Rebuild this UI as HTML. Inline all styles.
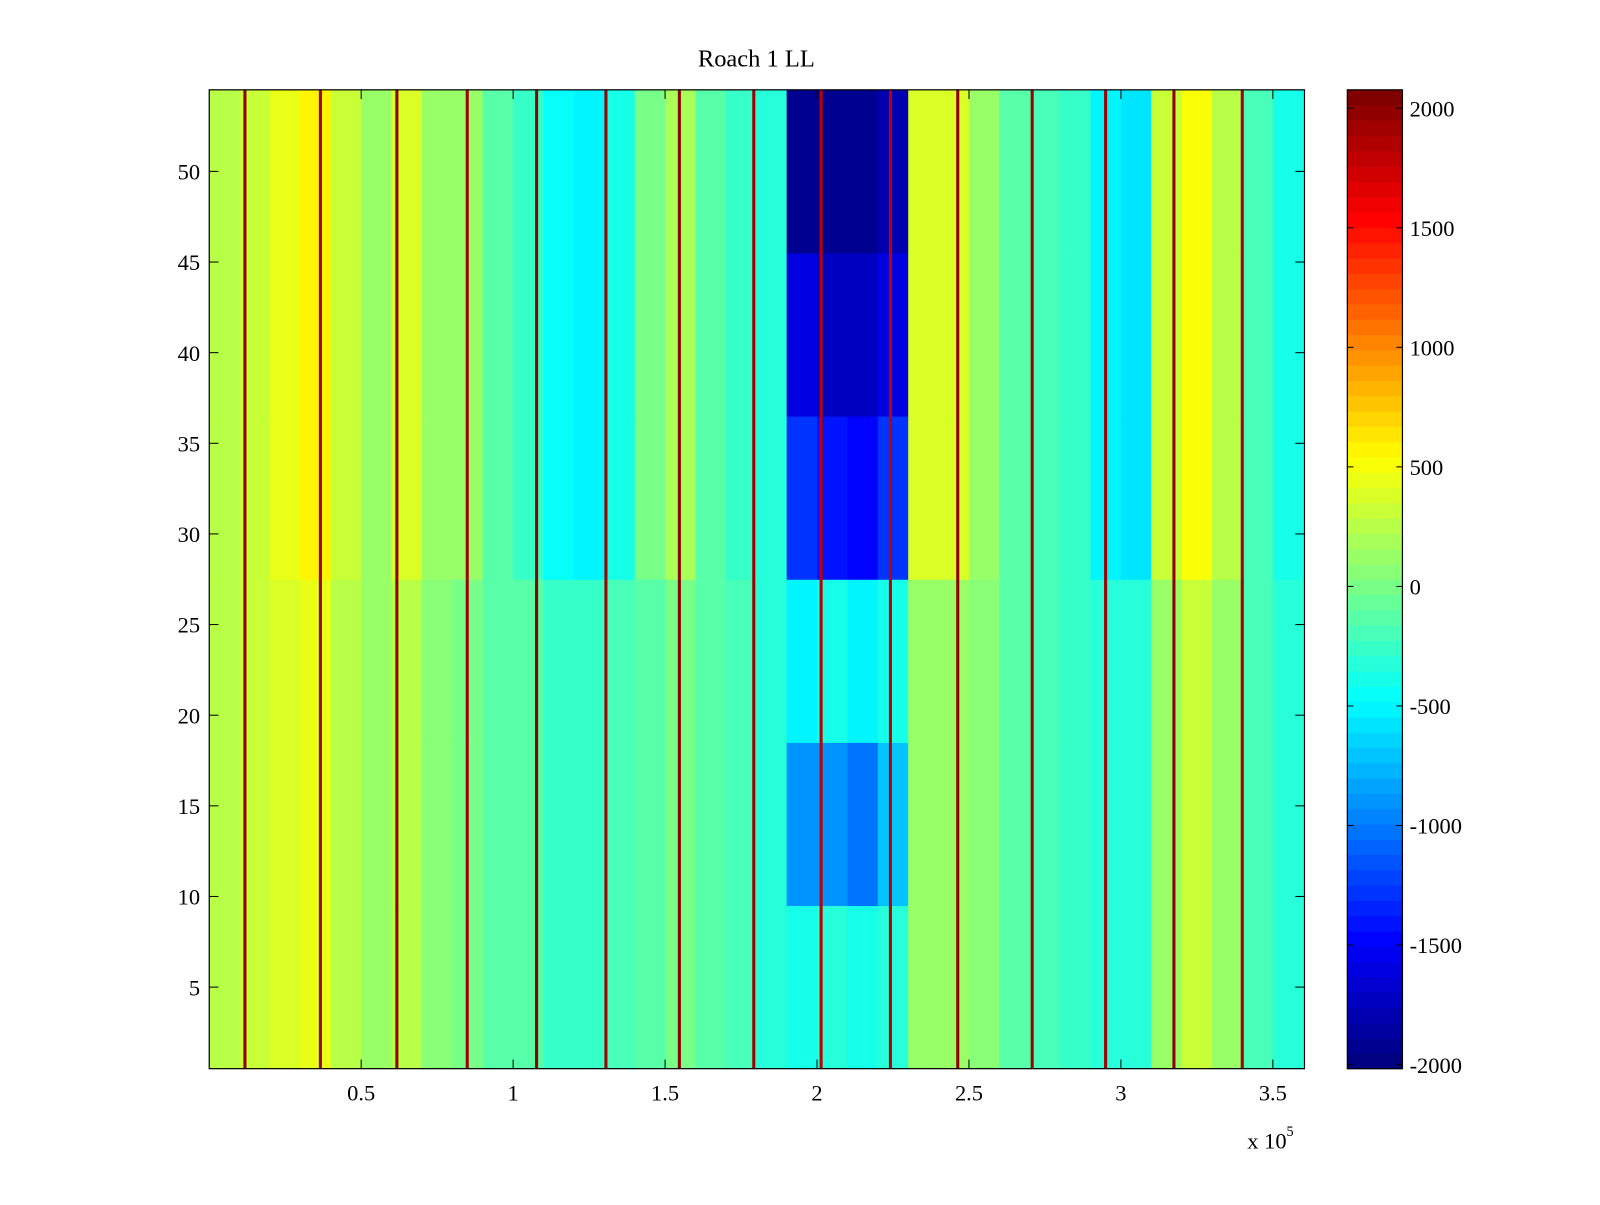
<!DOCTYPE html>
<html><head><meta charset="utf-8"><style>
body{margin:0;background:#fff;}
text{font-family:"Liberation Serif",serif;}
</style></head><body>
<svg id="chart" width="1600" height="1200" xmlns="http://www.w3.org/2000/svg">
<rect width="1600" height="1200" fill="#fff"/>
<g transform="scale(1.0207)">
<text x="741" y="65" font-size="24" text-anchor="middle">Roach 1 LL</text>
<g id="cells"></g>
<g id="stripes"></g>
<rect x="205" y="88" width="1073" height="959" fill="none" stroke="#000" stroke-width="1.2"/>
<g id="xaxis"></g>
<g id="yaxis"></g>
<text x="1222" y="1125" font-size="22">x 10<tspan font-size="14" dy="-12">5</tspan></text>
<g id="cbar"></g>
</g>
</svg>
<script>
// x-band width 10000, 36 bands; row groups (9 rows each) from bottom
const xBandStarts=[0,1,2,3,4,5,6,7,8,9,10,11,12,13,14,15,16,17,18,19,20,21,22,23,24,25,26,27,28,29,30,31,32,33,34,35];
const rowGroupStarts=[1,10,19,28,37,46];
const groupF=[250,300,350,450,250,150,250,50,0,-100,-150,-250,-250,-200,-100,0,-150,-200,-300,-400,-350,-400,-300,100,100,50,-100,-200,-250,-300,-300,100,300,150,-200,-300];
const groupE=[250,300,350,450,250,150,250,50,0,-100,-150,-250,-250,-200,-100,0,-150,-200,-300,-900,-900,-1000,-700,100,100,50,-100,-200,-250,-300,-300,100,300,150,-200,-300];
const groupD=[250,300,350,450,250,150,250,50,0,-100,-150,-250,-250,-200,-100,0,-150,-200,-300,-500,-400,-500,-400,100,100,50,-100,-200,-250,-300,-300,100,300,150,-200,-300];
const groupC=[250,300,450,600,300,150,350,100,150,-100,-250,-450,-500,-400,0,200,-100,-250,-300,-1300,-1400,-1500,-1300,400,400,100,-100,-200,-250,-500,-600,300,500,250,-200,-400];
const groupB=[250,300,450,600,300,150,350,100,150,-100,-250,-450,-500,-400,0,200,-100,-250,-300,-1600,-1700,-1700,-1600,400,400,100,-100,-200,-250,-500,-600,300,500,250,-200,-400];
const groupA=[250,300,450,600,300,150,350,100,150,-100,-250,-450,-500,-400,0,200,-100,-250,-300,-1900,-1900,-1900,-1800,400,400,100,-100,-200,-250,-500,-600,300,500,250,-200,-400];
const groups=[groupF,groupE,groupD,groupC,groupB,groupA];
const stripeX=[11745,36577,61745,84899,107718,130537,154698,179195,201342,224161,246309,270805,294966,317450,339933];
const stripeValue=[1950,1900,1950,1900,1950,1900,1950,1900,1800,1800,1950,1900,1900,1950,1900];
const xTicks=[0.5,1,1.5,2,2.5,3,3.5];
const xTickLabels=["0.5","1","1.5","2","2.5","3","3.5"];
const yTicks=[5,10,15,20,25,30,35,40,45,50];
const cTicks=[-2000,-1500,-1000,-500,0,500,1000,1500,2000];

const NS="http://www.w3.org/2000/svg";
const PX0=205,PX1=1278,PY0=88,PY1=1047;
const XMIN=0,XMAX=360400,YMIN=0.5,YMAX=54.5,CMIN=-2017,CMAX=2077;
const xs=v=>PX0+(v-XMIN)/(XMAX-XMIN)*(PX1-PX0);
const ys=v=>PY1-(v-YMIN)/(YMAX-YMIN)*(PY1-PY0);
function jet(v){
  let t=(v-CMIN)/(CMAX-CMIN);t=Math.max(0,Math.min(1,t));
  t=Math.floor(t*63.999)/63;
  const f=x=>Math.max(0,Math.min(1,1.5-Math.abs(4*t-x)));
  return `rgb(${Math.round(255*f(3))},${Math.round(255*f(2))},${Math.round(255*f(1))})`;
}
function mk(tag,attrs,parent){const e=document.createElementNS(NS,tag);for(const k in attrs)e.setAttribute(k,attrs[k]);parent.appendChild(e);return e;}
const cells=document.getElementById('cells');
groups.forEach((g,gi)=>{
  const r0=rowGroupStarts[gi]-0.5, r1=r0+9;
  g.forEach((v,bi)=>{
    const x0=xBandStarts[bi]*10000, x1=Math.min(XMAX,x0+10000);
    const r=mk('rect',{x:xs(x0),y:ys(r1),width:xs(x1)-xs(x0)+0.5,height:ys(r0)-ys(r1)+0.5,fill:jet(v)},cells);
    
    
  });
});
const st=document.getElementById('stripes');
stripeX.forEach((x,i)=>{
  const r=mk('rect',{x:xs(x)-1.5,y:PY0,width:3,height:PY1-PY0,fill:jet(stripeValue[i])},st);
  
  
});
const xa=document.getElementById('xaxis');
xTicks.forEach((t,i)=>{
  const x=xs(t*1e5);
  mk('line',{x1:x,x2:x,y1:PY1,y2:PY1-9,stroke:'#000'},xa);
  mk('line',{x1:x,x2:x,y1:PY0,y2:PY0+9,stroke:'#000'},xa);
  const tx=mk('text',{x:x,y:1078,'font-size':22,'text-anchor':'middle'},xa);
  tx.textContent=xTickLabels[i];
  
  
});
const ya=document.getElementById('yaxis');
yTicks.forEach(t=>{
  const y=ys(t);
  mk('line',{x1:PX0,x2:PX0+9,y1:y,y2:y,stroke:'#000'},ya);
  mk('line',{x1:PX1,x2:PX1-9,y1:y,y2:y,stroke:'#000'},ya);
  const tx=mk('text',{x:196,y:y+8,'font-size':22,'text-anchor':'end'},ya);
  tx.textContent=String(t);
  
  
});
const cb=document.getElementById('cbar');
const CX0=1320,CX1=1374;
const cs=v=>PY1-(v-CMIN)/(CMAX-CMIN)*(PY1-PY0);
for(let i=0;i<64;i++){
  const v0=CMIN+(CMAX-CMIN)*i/64, v1=CMIN+(CMAX-CMIN)*(i+1)/64;
  mk('rect',{x:CX0,y:cs(v1),width:CX1-CX0,height:cs(v0)-cs(v1)+0.5,fill:jet((v0+v1)/2)},cb);
}
mk('rect',{x:CX0,y:PY0,width:CX1-CX0,height:PY1-PY0,fill:'none',stroke:'#000','stroke-width':1.2},cb);
cTicks.forEach(t=>{
  const y=cs(t);
  mk('line',{x1:CX0,x2:CX0+6,y1:y,y2:y,stroke:'#000'},cb);
  mk('line',{x1:CX1,x2:CX1-6,y1:y,y2:y,stroke:'#000'},cb);
  const tx=mk('text',{x:1381,y:y+8,'font-size':22},cb);
  tx.textContent=String(t);
  
  
});
</script>
</body></html>
